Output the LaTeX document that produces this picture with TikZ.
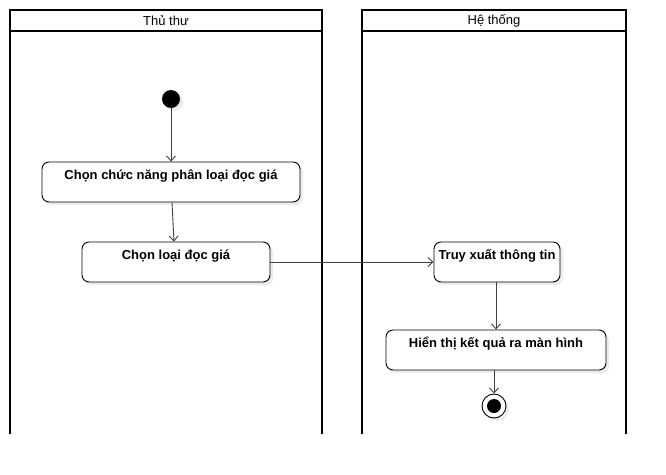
\documentclass[tikz,border=0pt]{standalone}
\usepackage{fontspec}
\setmainfont{Liberation Sans}
\usetikzlibrary{arrows.meta}
\usetikzlibrary{shadows}

\begin{document}
\begin{tikzpicture}[
        x=1pt, y=-1pt,
        act-node/.style={rectangle,rounded corners=7pt,draw=black,line width=0.9pt,fill=white,
            font=\fontsize{13}{15}\selectfont\bfseries,inner xsep=2pt,inner ysep=0pt,
            text height=17pt,text depth=23pt,
            drop shadow={opacity=0.15,shadow xshift=3pt,shadow yshift=-3pt}},
        lane-head/.style={rectangle,draw=black,line width=1.6pt,fill=white,
            font=\fontsize{13}{15}\selectfont,minimum height=21pt,inner sep=0pt},
        lane-line/.style={line width=1.6pt,black},
        flow/.style={draw=black!75,line width=0.9pt,-{Straight Barb[length=5pt,width=9pt]}}
    ]
        \useasboundingbox (0,0) rectangle (666,474);

        \draw[lane-line] (10,10) -- (10,434);
        \draw[lane-line] (322,10) -- (322,434);
        \draw[lane-line] (362,10) -- (362,434);
        \draw[lane-line] (626,10) -- (626,434);
        \node[lane-head, minimum width=312pt] (thuthu) at (166, 20.5) {Thủ thư};
        \node[lane-head, minimum width=264pt] (hethong) at (494, 20.5) {Hệ thống};

        \node[circle,fill=black,minimum size=18pt,inner sep=0pt,
            drop shadow={opacity=0.15,shadow xshift=3pt,shadow yshift=-3pt}] (start) at (171, 99) {};

        \node[act-node, minimum width=258pt] (chonchucnang) at (171, 182) {Chọn chức năng phân loại đọc giá};
        \node[act-node, minimum width=188pt] (chonloai) at (176, 262) {Chọn loại đọc giá};
        \node[act-node, minimum width=126pt] (truyxuat) at (497, 262) {Truy xuất thông tin};
        \node[act-node, minimum width=220pt] (hienthi) at (496, 350) {Hiển thị kết quả ra màn hình};

        \node[circle,draw=black,fill=white,line width=0.9pt,minimum size=24pt,inner sep=0pt,
            drop shadow={opacity=0.15,shadow xshift=3pt,shadow yshift=-3pt}] (end) at (494, 406) {};
        \node[circle,fill=black,minimum size=14pt,inner sep=0pt] (endin) at (end.center) {};

        \draw[flow] (start) -- (chonchucnang.north -| start);
        \draw[flow] ([xshift=1pt]chonchucnang.south) -- ([xshift=-2pt]chonloai.north);
        \draw[flow] (chonloai.east) -- (truyxuat.west);
        \draw[flow] ([xshift=-1pt]truyxuat.south) -- (hienthi.north);
        \draw[flow] ([xshift=-2pt]hienthi.south) -- (end.north);
    \end{tikzpicture}
\end{document}
